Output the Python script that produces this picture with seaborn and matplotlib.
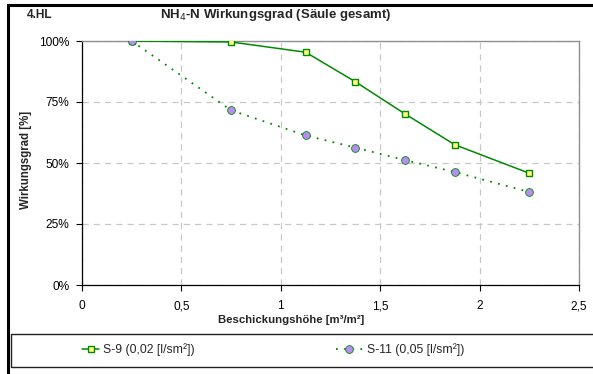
import matplotlib
matplotlib.use("Agg")
import matplotlib.pyplot as plt
import matplotlib.patches as mpatches
from matplotlib.ticker import FixedLocator
import seaborn as sns
import pandas as pd

# Beschickungshöhe [m³/m²] and efficiency per column
hoehe = [0.25, 0.75, 1.125, 1.375, 1.625, 1.875, 2.25]
s9 = [1.00, 0.996, 0.954, 0.833, 0.701, 0.575, 0.458]
s11 = [1.00, 0.716, 0.613, 0.563, 0.512, 0.463, 0.381]
series_names = ["S-9 (0,02 [l/sm²])", "S-11 (0,05 [l/sm²])"]
x_ticks = [0, 0.5, 1, 1.5, 2, 2.5]
x_tick_labels = ["0", "0,5", "1", "1,5", "2", "2,5"]
y_ticks = [0, 0.25, 0.5, 0.75, 1.0]
y_tick_labels = ["0%", "25%", "50%", "75%", "100%"]

df = pd.DataFrame({
    "x": hoehe * 2,
    "y": s9 + s11,
    "serie": [series_names[0]] * len(hoehe) + [series_names[1]] * len(hoehe),
})

sns.set_theme(style="white")
plt.rcParams["font.family"] = ["Liberation Sans", "DejaVu Sans"]

W, H = 593, 374
fig = plt.figure(figsize=(W / 100, H / 100), dpi=100)
fig.patch.set_facecolor("white")

def fx(px):
    return px / W

def fy(py):
    return 1 - py / H

ax = fig.add_axes([fx(82), fy(285), fx(579) - fx(82), fy(41) - fy(285)])
ax.set_facecolor("white")

green = "#008a00"
lavender = "#b98cf5"
sns.lineplot(data=df[df.serie == series_names[0]], x="x", y="y", ax=ax,
             color=green, lw=1.1, marker="s", markersize=5,
             markerfacecolor="#ffff80", markeredgecolor=green, markeredgewidth=1.0,
             label=series_names[0], legend=False, zorder=4)
sns.lineplot(data=df[df.serie == series_names[1]], x="x", y="y", ax=ax,
             color=green, lw=1.3, linestyle=(0, (1, 3.5)), marker="o", markersize=5.6,
             markerfacecolor=lavender, markeredgecolor=green, markeredgewidth=0.6,
             label=series_names[1], legend=False, zorder=4)
ax.get_lines()[1].set_markerfacecolor(lavender)

ax.set_xlim(0, 2.5)
ax.set_ylim(0, 1.0)
ax.xaxis.set_major_locator(FixedLocator(x_ticks))
ax.set_xticklabels(x_tick_labels)
ax.yaxis.set_major_locator(FixedLocator(y_ticks))
ax.set_yticklabels(y_tick_labels)
ax.tick_params(axis="both", which="major", labelsize=8.6, colors="black",
               direction="out", length=4, width=0.8, bottom=True, left=True)
ax.tick_params(axis="x", pad=7)
ax.tick_params(axis="y", pad=5)

ax.grid(True, color="#c8c8c8", linestyle=(0, (5, 4)), lw=0.9)
ax.set_axisbelow(True)
for side in ["top", "right"]:
    ax.spines[side].set_color("#909090")
    ax.spines[side].set_linewidth(1.0)
for side in ["left", "bottom"]:
    ax.spines[side].set_color("black")
    ax.spines[side].set_linewidth(0.9)
ax.set_xlabel("")
ax.set_ylabel("")

# titles and axis labels
fig.text(fx(27), fy(15), "4.HL", fontsize=8.6, fontweight="bold", ha="left", va="center")
fig.text(fx(276), fy(15), "NH$_4$-N Wirkungsgrad (Säule gesamt)", fontsize=9.5,
         fontweight="bold", ha="center", va="center")
fig.text(fx(26), fy(160), "Wirkungsgrad [%]", fontsize=8.3, fontweight="bold",
         rotation=90, ha="center", va="center")
fig.text(fx(291), fy(320), "Beschickungshöhe [m³/m²]", fontsize=8.2,
         fontweight="bold", ha="center", va="center")

# outer chart frame and legend box
fig.patches.append(mpatches.Rectangle((fx(8), -0.2), 1.2, fy(5) + 0.2,
                                      transform=fig.transFigure, fill=False,
                                      edgecolor="black", lw=2.2))
fig.patches.append(mpatches.Rectangle((fx(11), fy(367)), 1.2, fy(334) - fy(367),
                                      transform=fig.transFigure, fill=False,
                                      edgecolor="#202020", lw=1.0))

lines = ax.get_lines()
fig.legend([lines[0]], [series_names[0]], loc="center left",
           bbox_to_anchor=(fx(82), fy(350)), frameon=False, fontsize=8.8,
           handlelength=1.4, handletextpad=0.3, borderpad=0, borderaxespad=0)
fig.legend([lines[1]], [series_names[1]], loc="center left",
           bbox_to_anchor=(fx(336), fy(350)), frameon=False, fontsize=8.8,
           handlelength=2.2, handletextpad=0.3, borderpad=0, borderaxespad=0)

fig.savefig("out.png", dpi=100)
